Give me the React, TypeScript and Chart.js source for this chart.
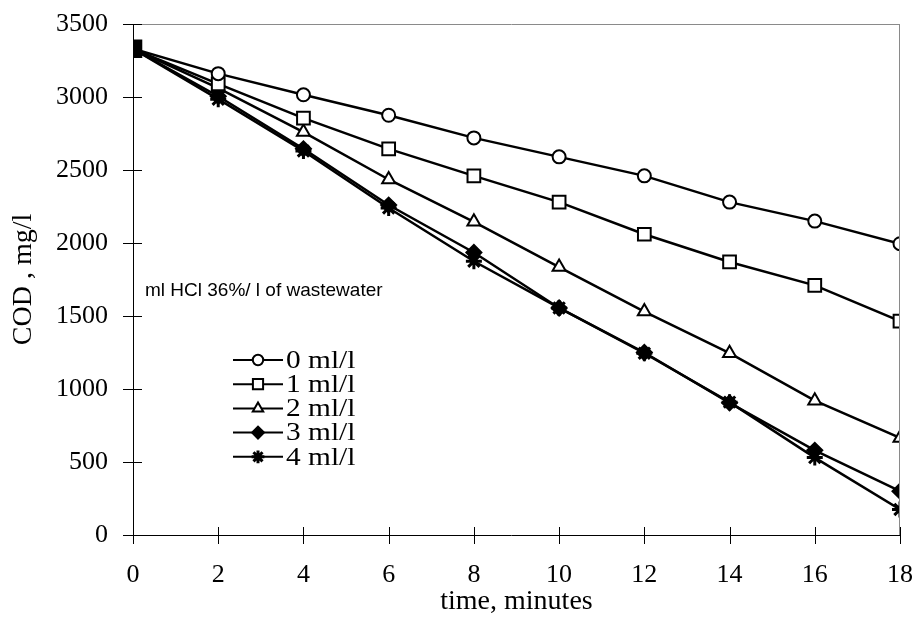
import React, { useEffect, useRef } from 'react';
import { Chart, registerables } from 'chart.js';
import { drawPoint } from 'chart.js/helpers';

Chart.register(...registerables);

const times = [0, 2, 4, 6, 8, 10, 12, 14, 16, 18];
const seriesLabels = ['0 ml/l', '1 ml/l', '2 ml/l', '3 ml/l', '4 ml/l'];
const cod0 = [3330, 3160, 3015, 2875, 2720, 2590, 2460, 2280, 2150, 1995];
const cod1 = [3330, 3090, 2855, 2645, 2460, 2280, 2060, 1870, 1710, 1465];
const cod2 = [3330, 3060, 2760, 2435, 2145, 1835, 1530, 1245, 920, 665];
const cod3 = [3330, 3005, 2645, 2260, 1935, 1555, 1250, 905, 580, 300];
const cod4 = [3330, 2985, 2630, 2240, 1875, 1555, 1245, 910, 530, 175];
const seriesValues = [cod0, cod1, cod2, cod3, cod4];
const xTicks = [0, 2, 4, 6, 8, 10, 12, 14, 16, 18];
const yTicks = [0, 500, 1000, 1500, 2000, 2500, 3000, 3500];

const xTitle = 'time, minutes';
const yTitle = 'COD , mg/l';
const noteText = 'ml HCl 36%/ l of wastewater';

const markerStyles = ['circle', 'rect', 'triangle', 'rectRot', 'star'];
const markerFills = ['#ffffff', '#ffffff', '#ffffff', '#000000', '#000000'];
const markerRadii = [6.5, 9, 7.5, 7.5, 8];
const markerBorders = [2, 2, 2, 2, 3];

const SERIF = '"Liberation Serif", "Times New Roman", serif';
const SANS = '"Liberation Sans", Arial, sans-serif';

const decorPlugin = {
  id: 'decor',
  afterDatasetsDraw(chart: any) {
    const ctx = chart.ctx;
    const { left, right, top, bottom } = chart.chartArea;
    const xs = chart.scales.x;
    const ys = chart.scales.y;
    ctx.save();
    // frame top and right (gray)
    ctx.strokeStyle = '#8a8a8a';
    ctx.lineWidth = 1;
    ctx.beginPath();
    ctx.moveTo(left - 10, top + 0.5);
    ctx.lineTo(right, top + 0.5);
    ctx.moveTo(right - 0.5, top);
    ctx.lineTo(right - 0.5, bottom);
    ctx.stroke();
    // axes (black)
    ctx.strokeStyle = '#000';
    ctx.beginPath();
    ctx.moveTo(left + 0.5, top);
    ctx.lineTo(left + 0.5, bottom + 9);
    ctx.moveTo(left - 10, bottom + 0.5);
    ctx.lineTo(right, bottom + 0.5);
    // tick marks crossing the axes
    yTicks.forEach((v) => {
      const py = Math.round(ys.getPixelForValue(v)) + 0.5;
      ctx.moveTo(left - 10, py);
      ctx.lineTo(left + 9, py);
    });
    xTicks.forEach((v) => {
      const px = Math.round(xs.getPixelForValue(v)) + 0.5;
      ctx.moveTo(px, bottom - 8);
      ctx.lineTo(px, bottom + 9);
    });
    ctx.stroke();

    // axis titles
    ctx.fillStyle = '#000';
    ctx.font = '28px ' + SERIF;
    ctx.textAlign = 'center';
    ctx.textBaseline = 'middle';
    ctx.fillText(xTitle, (left + right) / 2, bottom + 67);
    ctx.save();
    ctx.translate(24, (top + bottom) / 2);
    ctx.rotate(-Math.PI / 2);
    ctx.fillText(yTitle, 0, 0);
    ctx.restore();

    // note text
    ctx.font = '19px ' + SANS;
    ctx.textAlign = 'left';
    ctx.fillText(noteText, left + 12, top + 267);

    // legend
    const lx0 = left + 100;
    const lx1 = left + 150;
    seriesLabels.forEach((lab, i) => {
      const ly = top + 336 + i * 24.2;
      ctx.strokeStyle = '#000';
      ctx.lineWidth = 2;
      ctx.beginPath();
      ctx.moveTo(lx0, ly);
      ctx.lineTo(lx1, ly);
      ctx.stroke();
      ctx.fillStyle = markerFills[i];
      ctx.lineWidth = markerBorders[i];
      drawPoint(ctx, { pointStyle: markerStyles[i], radius: markerRadii[i] * 0.8, rotation: 0, borderWidth: markerBorders[i] }, (lx0 + lx1) / 2, ly);
      ctx.save();
      ctx.fillStyle = '#000';
      ctx.font = '26px ' + SERIF;
      ctx.textAlign = 'left';
      ctx.textBaseline = 'middle';
      ctx.translate(lx1 + 3, ly + 1);
      ctx.scale(1.13, 1);
      ctx.fillText(lab, 0, 0);
      ctx.restore();
    });
    ctx.restore();
  },
};

const zeroPad = (s: any) => {
  s.paddingLeft = 0;
  s.paddingRight = 0;
  s.paddingTop = 0;
  s.paddingBottom = 0;
};

export default function App() {
  const ref = useRef<HTMLCanvasElement | null>(null);
  useEffect(() => {
    document.body.style.margin = '0';
    const canvas = ref.current;
    if (!canvas) return;
    const datasets = seriesValues.map((vals, i) => ({
      label: seriesLabels[i],
      data: vals.map((v, j) => ({ x: times[j], y: v })),
      borderColor: '#000',
      borderWidth: 2.5,
      backgroundColor: (c: any) => (c.dataIndex === 0 ? '#000' : markerFills[i]),
      pointStyle: (c: any) => (c.dataIndex === 0 ? 'rect' : markerStyles[i]),
      pointRadius: (c: any) => (c.dataIndex === 0 ? 11 : markerRadii[i]),
      pointBorderWidth: markerBorders[i],
      pointBorderColor: '#000',
      pointBackgroundColor: (c: any) => (c.dataIndex === 0 ? '#000' : markerFills[i]),
      tension: 0,
      fill: false,
    }));
    const chart = new Chart(canvas, {
      type: 'line',
      data: { datasets },
      options: {
        animation: false,
        responsive: false,
        maintainAspectRatio: false,
        layout: { padding: { top: 24, right: 15, left: 0, bottom: 0 } },
        plugins: { legend: { display: false }, tooltip: { enabled: false } },
        scales: {
          x: {
            type: 'linear',
            min: 0,
            max: 18,
            afterFit: (s: any) => { s.height = 84; zeroPad(s); },
            afterBuildTicks: (s: any) => { s.ticks = xTicks.map((v) => ({ value: v })); },
            ticks: { color: '#000', font: { family: SERIF, size: 26 }, padding: 25, maxRotation: 0, autoSkip: false, callback: (v: any) => String(v) },
            grid: { display: false, drawTicks: false },
            border: { display: false },
          },
          y: {
            type: 'linear',
            min: 0,
            max: 3500,
            afterFit: (s: any) => { s.width = 133; zeroPad(s); },
            afterBuildTicks: (s: any) => { s.ticks = yTicks.map((v) => ({ value: v })); },
            ticks: { color: '#000', font: { family: SERIF, size: 26 }, padding: 25, callback: (v: any) => String(v) },
            grid: { display: false, drawTicks: false },
            border: { display: false },
          },
        },
      },
      plugins: [decorPlugin],
    });
    return () => chart.destroy();
  }, []);
  return <canvas ref={ref} width={915} height={619} style={{ display: 'block' }} />;
}
